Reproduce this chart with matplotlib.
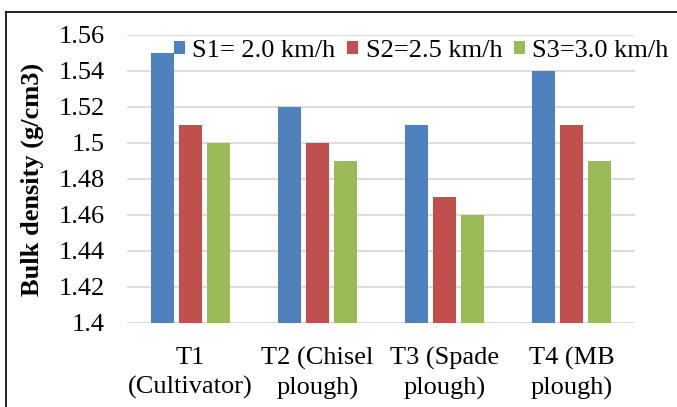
import numpy as np
import matplotlib
matplotlib.use("Agg")
import matplotlib.pyplot as plt
from matplotlib.lines import Line2D

treatments = ["T1\n(Cultivator)", "T2 (Chisel\nplough)", "T3 (Spade\nplough)", "T4 (MB\nplough)"]
series = ["S1= 2.0 km/h", "S2=2.5 km/h", "S3=3.0 km/h"]
s1 = [1.55, 1.52, 1.51, 1.54]
s2 = [1.51, 1.50, 1.47, 1.51]
s3 = [1.50, 1.49, 1.46, 1.49]
colors = ["#4F81BD", "#C0504D", "#9BBB59"]
yticks = [1.4, 1.42, 1.44, 1.46, 1.48, 1.5, 1.52, 1.54, 1.56]

plt.rcParams["font.family"] = ["Liberation Serif", "DejaVu Serif"]

fig = plt.figure(figsize=(6.77, 4.07), dpi=100)
ax = fig.add_axes([127 / 677, 1 - 323 / 407, 508 / 677, 288 / 407])

x = np.arange(len(treatments))
width = 0.181
step = 0.224
for i, (vals, c, name) in enumerate(zip([s1, s2, s3], colors, series)):
    ax.bar(x + (i - 1) * step, np.array(vals) - 1.4, width, bottom=1.4,
           color=c, label=name, zorder=3)

ax.set_xlim(-0.5, 3.5)
ax.set_ylim(1.4, 1.56)
ax.set_yticks(yticks)
ax.set_yticklabels([f"{v:g}" for v in yticks])
ax.set_xticks(x)
ax.set_xticklabels(treatments, linespacing=1.4)
ax.tick_params(axis="both", length=0, labelsize=19)
ax.tick_params(axis="y", pad=16)
ax.tick_params(axis="x", pad=17)
ax.yaxis.grid(True, color="#D9D9D9", linewidth=1.3, zorder=0)
for s in ax.spines.values():
    s.set_visible(False)
ax.axhline(1.4, color="#D9D9D9", linewidth=1.3, zorder=2)

ax.set_ylabel("Bulk density (g/cm3)", fontsize=19, fontweight="bold")
ax.yaxis.set_label_coords(-(127 - 44) / 508, 0.5)

fig.legend(loc="center left", bbox_to_anchor=(174 / 677, 1 - 51 / 407),
           ncol=3, frameon=False, fontsize=19, handlelength=0.42, handleheight=0.42,
           handletextpad=0.27, columnspacing=0.45, borderpad=0, borderaxespad=0)

# outer frame (top and left edges visible)
fig.add_artist(Line2D([6 / 677, 6 / 677], [0, 1 - 12 / 407], color="black", linewidth=1.2))
fig.add_artist(Line2D([6 / 677, 1], [1 - 12 / 407, 1 - 12 / 407], color="black", linewidth=1.2))

fig.savefig("out.png", dpi=100)
